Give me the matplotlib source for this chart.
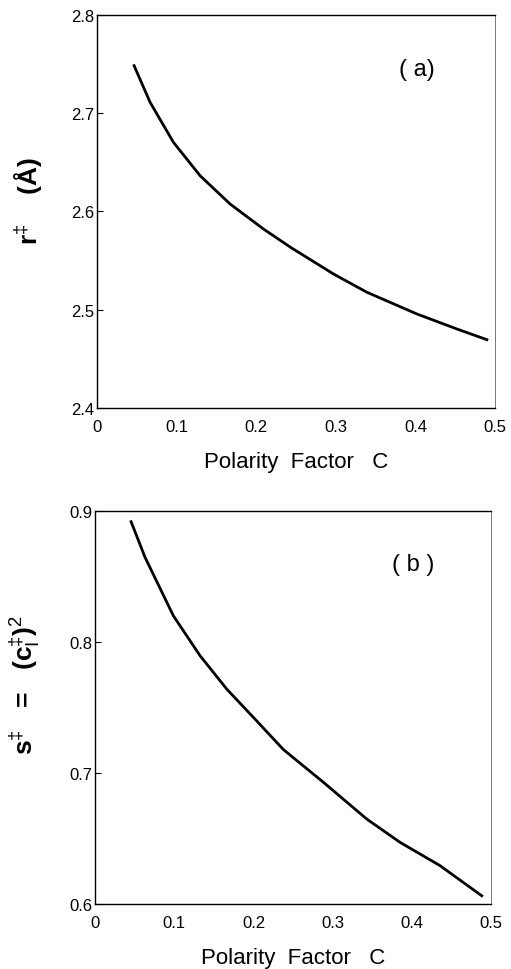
import matplotlib
matplotlib.use("Agg")
import matplotlib.pyplot as plt

plt.rcParams['font.family'] = ['Liberation Sans', 'DejaVu Sans']
plt.rcParams['mathtext.fontset'] = 'custom'
plt.rcParams['mathtext.rm'] = 'Liberation Sans'
plt.rcParams['mathtext.it'] = 'Liberation Sans'
plt.rcParams['mathtext.bf'] = 'Liberation Sans:bold'

# Panel (a): r‡ vs polarity factor C
c_a = [0.0465, 0.0666, 0.0959, 0.1294, 0.1671, 0.2089, 0.2440, 0.2969, 0.3388,
       0.4016, 0.4519, 0.4896]
r_a = [2.7484, 2.7111, 2.6704, 2.6364, 2.6076, 2.5822, 2.5630, 2.5364, 2.5178,
       2.4957, 2.4804, 2.4695]

# Panel (b): s‡ vs polarity factor C
c_b = [0.0455, 0.0631, 0.0989, 0.1326, 0.1663, 0.1999, 0.2378, 0.2883, 0.3431,
       0.3851, 0.4356, 0.4882]
s_b = [0.8921, 0.8649, 0.8202, 0.7897, 0.7642, 0.7426, 0.7180, 0.6930, 0.6649,
       0.6471, 0.6293, 0.6063]

x_ticks = [0, 0.1, 0.2, 0.3, 0.4, 0.5]
x_ticklabels = ['0', '0.1', '0.2', '0.3', '0.4', '0.5']
ya_ticks = [2.4, 2.5, 2.6, 2.7, 2.8]
ya_labels = ['2.4', '2.5', '2.6', '2.7', '2.8']
yb_ticks = [0.6, 0.7, 0.8, 0.9]
yb_labels = ['0.6', '0.7', '0.8', '0.9']

fig = plt.figure(figsize=(5.11, 9.70), dpi=100)
ax1 = fig.add_axes([0.190, 0.5784, 0.779, 0.4051])
ax2 = fig.add_axes([0.186, 0.0670, 0.775, 0.4048])

for ax in (ax1, ax2):
    for s in ax.spines.values():
        s.set_linewidth(1.0)
    ax.spines['right'].set_color('#777777')
    ax.spines['right'].set_linewidth(0.7)
    ax.tick_params(axis='y', direction='in', length=4, width=0.8, labelsize=12, pad=2)
    ax.tick_params(axis='x', direction='in', length=0, labelsize=12, pad=8)
    ax.set_xlim(0, 0.5)
    ax.set_xticks(x_ticks)
    ax.set_xticklabels(x_ticklabels)

ax1.plot(c_a, r_a, color='black', lw=2.0, solid_joinstyle='round')
ax1.set_ylim(2.4, 2.8)
ax1.set_yticks(ya_ticks)
ax1.set_yticklabels(ya_labels)
ax1.set_xlabel('Polarity  Factor   C', fontsize=16, labelpad=12)
ax1.set_ylabel(r'$\mathbf{r}^{\ddagger}$    (Å)', fontsize=19, fontweight='bold')
ax1.yaxis.set_label_coords(-0.13, 0.53)
ax1.text(0.402, 2.745, '( a)', fontsize=17, ha='center', va='center')

ax2.plot(c_b, s_b, color='black', lw=2.0, solid_joinstyle='round')
ax2.set_ylim(0.6, 0.9)
ax2.set_yticks(yb_ticks)
ax2.set_yticklabels(yb_labels)
ax2.set_xlabel('Polarity  Factor   C', fontsize=16, labelpad=12)
ax2.set_ylabel(r'$\mathbf{s}^{\ddagger}$   =   (c$_{\rm I}^{\ddagger}$)$^{2}$', fontsize=19,
               fontweight='bold')
ax2.yaxis.set_label_coords(-0.135, 0.56)
ax2.text(0.4015, 0.86, '( b )', fontsize=17, ha='center', va='center')

fig.savefig('out.png', dpi=100)
